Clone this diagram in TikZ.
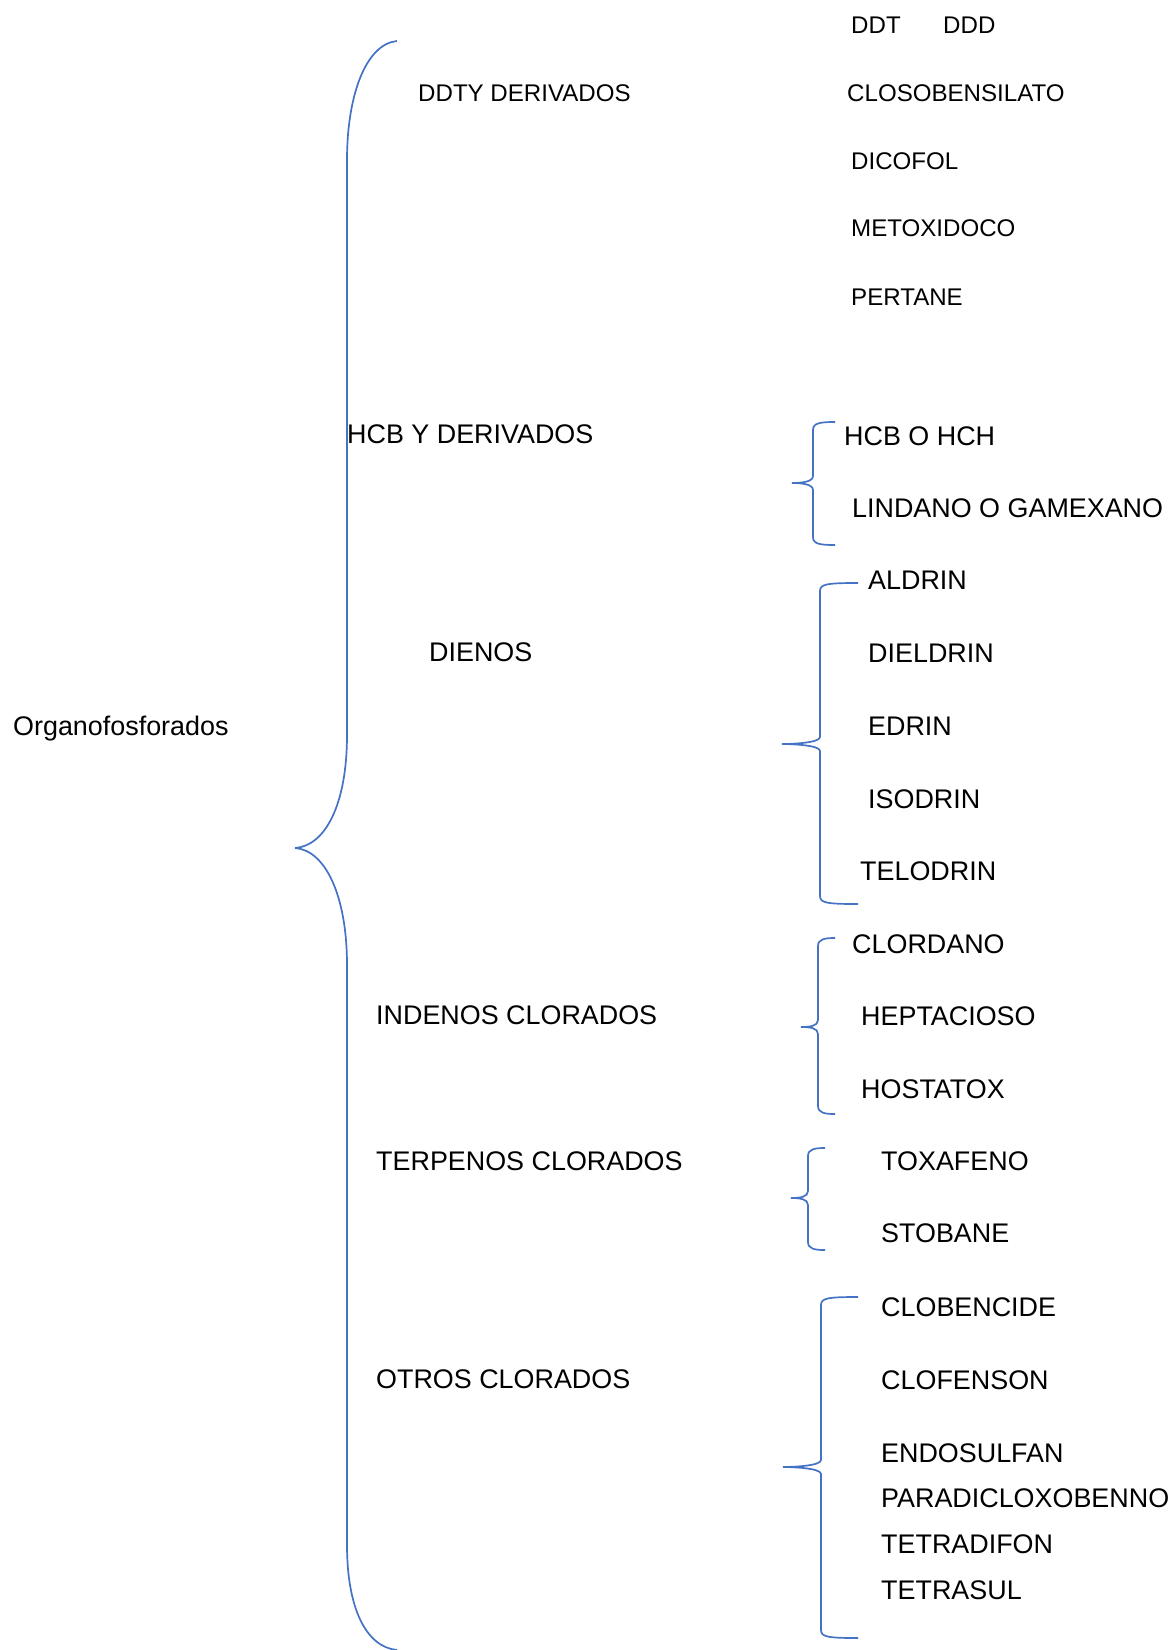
\documentclass[tikz,border=0pt]{standalone}
\usepackage{fontspec}
\setmainfont{Liberation Sans}
\definecolor{trait}{RGB}{68,114,196}
\newcommand{\grandf}{\fontsize{26.9}{30}\selectfont}
\newcommand{\petitf}{\fontsize{24.1}{28}\selectfont}
% petite accolade : bout, ligne, pointe, haut, milieu, bas
\newcommand{\accol}[6]{\draw[accolade] (#1,#4) .. controls (#2+7,#4) and (#2,#4+1) .. (#2,#4+8)
 	-- (#2,#5-7) .. controls (#2,#5-1) and (#3+9,#5) .. (#3,#5)
 	.. controls (#3+9,#5) and (#2,#5+1) .. (#2,#5+7)
 	-- (#2,#6-8) .. controls (#2,#6-1) and (#2+7,#6) .. (#1,#6)}

\begin{document}
\begin{tikzpicture}[x=1pt,y=-1pt,
	accolade/.style={draw=trait,line width=1.7pt},
	grand/.style={font=\grandf,inner sep=0pt,anchor=base west},
	petit/.style={font=\petitf,inner sep=0pt,anchor=base west}]
	\useasboundingbox (0,0) rectangle (1172,1650);
	% grande accolade
	\draw[accolade] (397,41) .. controls (366,44) and (347,95) .. (347,160)
		-- (347,735) .. controls (347,805) and (325,846) .. (295,848);
	\draw[accolade] (295,848) .. controls (325,850) and (347,895) .. (347,965)
		-- (347,1545) .. controls (347,1608) and (366,1647) .. (397,1650);
	\node[grand] (org) at (13,735) {Organofosforados};
	% groupes
	\node[petit] (ddty) at (418,101.5) {DDTY DERIVADOS};
	\node[grand] (hcb) at (347,443.5) {HCB Y DERIVADOS};
	\node[grand] (dienos) at (429,661.5) {DIENOS};
	\node[grand] (indenos) at (376,1024.5) {INDENOS CLORADOS};
	\node[grand] (terpenos) at (376,1170.5) {TERPENOS CLORADOS};
	\node[grand] (otros) at (376,1388.5) {OTROS CLORADOS};
	% DDT
	\node[petit] (ddt) at (851,33) {DDT};
	\node[petit] (ddd) at (943,33) {DDD};
	\node[petit] (closo) at (847,101.5) {CLOSOBENSILATO};
	\node[petit] (dicofol) at (851,169.5) {DICOFOL};
	\node[petit] (metox) at (851,236.5) {METOXIDOCO};
	\node[petit] (pertane) at (851,305.5) {PERTANE};
	% HCB
	\accol{835}{813}{792}{422}{483}{545};
	\node[grand] (hch) at (844,445) {HCB O HCH};
	\node[grand] (lindano) at (852,517) {LINDANO O GAMEXANO};
	% dienos
	\accol{858}{820}{782}{583}{744}{904};
	\node[grand] (aldrin) at (868,589) {ALDRIN};
	\node[grand] (dieldrin) at (868,662) {DIELDRIN};
	\node[grand] (edrin) at (868,735) {EDRIN};
	\node[grand] (isodrin) at (868,808) {ISODRIN};
	\node[grand] (telodrin) at (860,880) {TELODRIN};
	% indenos
	\accol{835}{818}{801}{938}{1027}{1114};
	\node[grand] (clordano) at (852,953) {CLORDANO};
	\node[grand] (hepta) at (861,1025) {HEPTACIOSO};
	\node[grand] (hostatox) at (861,1098) {HOSTATOX};
	% terpenos
	\accol{825}{808}{791}{1148}{1198}{1250};
	\node[grand] (toxafeno) at (881,1170.5) {TOXAFENO};
	\node[grand] (stobane) at (881,1242.5) {STOBANE};
	% otros
	\accol{858}{821}{783}{1297}{1467}{1638};
	\node[grand] (clobencide) at (881,1316) {CLOBENCIDE};
	\node[grand] (clofenson) at (881,1389) {CLOFENSON};
	\node[grand] (endosulfan) at (881,1462) {ENDOSULFAN};
	\node[grand] (paradi) at (881,1507) {PARADICLOXOBENNO};
	\node[grand] (tetradifon) at (881,1553) {TETRADIFON};
	\node[grand] (tetrasul) at (881,1599) {TETRASUL};
\end{tikzpicture}
\end{document}
